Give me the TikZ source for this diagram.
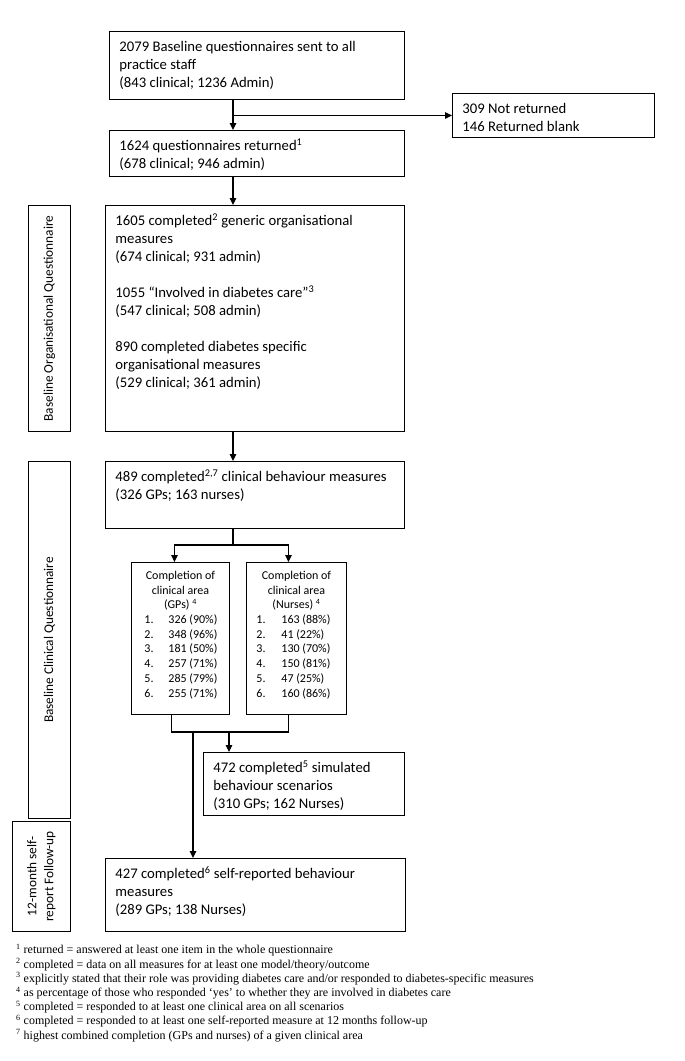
\documentclass[tikz,border=0pt]{standalone}
\usepackage{fontspec}
\setmainfont{Carlito}
\newfontfamily\notefont{Liberation Serif}
\usepackage{tikz}
\usetikzlibrary{arrows.meta}

\newcommand{\boxtext}[3]{\parbox[t][#1][t]{#2}{\raggedright\rule{0pt}{20pt}#3}}
\newcommand{\areaitem}[3]{\makebox[#1][l]{#2}#3}

\begin{document}
\begin{tikzpicture}[x=1pt, y=-1pt,
  font=\fontsize{14.7}{18}\selectfont,
  flowbox/.style={draw, line width=0.9pt, anchor=north west, inner xsep=10pt, inner ysep=0pt},
  sidebox/.style={draw, line width=0.9pt, anchor=north west, inner sep=0pt,
    font=\fontsize{13.3}{17}\selectfont},
  areabox/.style={draw, line width=0.9pt, anchor=north west, inner sep=0pt,
    font=\fontsize{12}{14.7}\selectfont},
  link/.style={line width=1.2pt},
  arr/.style={link, -{Triangle[length=7pt, width=6.5pt]}}]
  \useasboundingbox (0,0) rectangle (685,1061);

  \node[flowbox] (sent) at (109,31) {\boxtext{68pt}{275pt}{2079 Baseline questionnaires sent to all\\practice staff\\(843 clinical; 1236 Admin)}};
  \node[flowbox] (lost) at (452,93) {\boxtext{44pt}{182pt}{309 Not returned\\146 Returned blank}};
  \node[flowbox] (ret) at (109,130) {\boxtext{46pt}{275pt}{1624 questionnaires returned\textsuperscript{1}\\(678 clinical; 946 admin)}};
  \node[flowbox] (gen) at (105,205) {\boxtext{226pt}{279pt}{1605 completed\textsuperscript{2} generic organisational\\measures\\(674 clinical; 931 admin)\\[18pt]
    1055 “Involved in diabetes care”\textsuperscript{3}\\(547 clinical; 508 admin)\\[18pt]
    890 completed diabetes specific\\organisational measures\\(529 clinical; 361 admin)}};
  \node[flowbox] (clin) at (105,461) {\boxtext{67pt}{279pt}{489 completed\textsuperscript{2,7} clinical behaviour measures\\(326 GPs; 163 nurses)}};

  \node[areabox] (gp) at (131,562) {\parbox[t][152pt][t]{98pt}{\centering\rule{0pt}{17pt}Completion of\\clinical area\\(GPs) \textsuperscript{4}\par
    \raggedright\leftskip=13pt
    \areaitem{24pt}{1.}{326 (90\%)}\\\areaitem{24pt}{2.}{348 (96\%)}\\\areaitem{24pt}{3.}{181 (50\%)}\\
    \areaitem{24pt}{4.}{257 (71\%)}\\\areaitem{24pt}{5.}{285 (79\%)}\\\areaitem{24pt}{6.}{255 (71\%)}}};
  \node[areabox] (nu) at (246,562) {\parbox[t][152pt][t]{100pt}{\centering\rule{0pt}{17pt}Completion of\\clinical area\\(Nurses) \textsuperscript{4}\par
    \raggedright\leftskip=10pt
    \areaitem{25pt}{1.}{163 (88\%)}\\\areaitem{25pt}{2.}{41 (22\%)}\\\areaitem{25pt}{3.}{130 (70\%)}\\
    \areaitem{25pt}{4.}{150 (81\%)}\\\areaitem{25pt}{5.}{47 (25\%)}\\\areaitem{25pt}{6.}{160 (86\%)}}};

  \node[flowbox] (sim) at (203,752) {\boxtext{63pt}{181pt}{472 completed\textsuperscript{5} simulated\\behaviour scenarios\\(310 GPs; 162 Nurses)}};
  \node[flowbox] (self) at (105,858) {\boxtext{73pt}{280pt}{427 completed\textsuperscript{6} self-reported behaviour\\measures\\(289 GPs; 138 Nurses)}};

  \node[sidebox, minimum width=42pt, minimum height=226pt] (orgq) at (28,205) {\rotatebox{90}{Baseline Organisational Questionnaire}};
  \node[sidebox, minimum width=42pt, minimum height=357pt] (clinq) at (28,461) {\rotatebox{90}{Baseline Clinical Questionnaire}};
  \node[sidebox, minimum width=58pt, minimum height=110pt] (fup) at (12,821) {\rotatebox{90}{\parbox{106pt}{\centering 12-month self-\\report Follow-up}}};

  \node[anchor=north west, inner sep=0pt, align=left, font=\notefont\fontsize{12}{14.2}\selectfont] (notes) at (16,944) {%
    \textsuperscript{1} returned = answered at least one item in the whole questionnaire\\
    \textsuperscript{2} completed = data on all measures for at least one model/theory/outcome\\
    \textsuperscript{3} explicitly stated that their role was providing diabetes care and/or responded to diabetes-specific measures\\
    \textsuperscript{4} as percentage of those who responded ‘yes’ to whether they are involved in diabetes care\\
    \textsuperscript{5} completed = responded to at least one clinical area on all scenarios\\
    \textsuperscript{6} completed = responded to at least one self-reported measure at 12 months follow-up\\
    \textsuperscript{7} highest combined completion (GPs and nurses) of a given clinical area};

  \coordinate (spine) at (233,0);
  \draw[arr] (sent.south -| spine) -- (ret.north -| spine);
  \draw[arr] (spine |- lost.west) -- (lost.west);
  \draw[arr] (ret.south -| spine) -- (gen.north -| spine);
  \draw[arr] (gen.south -| spine) -- (clin.north -| spine);
  \draw[link] (clin.south -| spine) -- ++(0,16) coordinate (fork);
  \draw[arr] (fork) -| ([xshift=-6pt]gp.north);
  \draw[arr] (fork) -| ([xshift=-8pt]nu.north);
  \draw[link] ([xshift=-9pt]gp.south) -- ++(0,17) coordinate (join) -| ([xshift=-8pt]nu.south);
  \draw[arr] ([xshift=26pt]sim.north west |- join) -- ([xshift=26pt]sim.north west);
  \draw[arr] ([xshift=88pt]self.north west |- join) -- ([xshift=88pt]self.north west);
\end{tikzpicture}
\end{document}
